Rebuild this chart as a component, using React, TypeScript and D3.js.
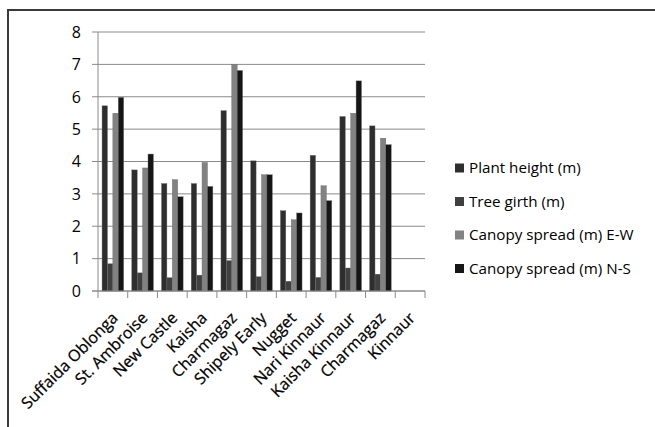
import React from "react";
import * as d3 from "d3";

const categories = [
  "Suffaida Oblonga",
  "St. Ambroise",
  "New Castle",
  "Kaisha",
  "Charmagaz",
  "Shipely Early",
  "Nugget",
  "Nari Kinnaur",
  "Kaisha Kinnaur",
  "Charmagaz",
  "Kinnaur",
];

const seriesNames = [
  "Plant height (m)",
  "Tree girth (m)",
  "Canopy spread (m) E-W",
  "Canopy spread (m) N-S",
];

const plantHeight = [5.72, 3.74, 3.32, 3.32, 5.57, 4.02, 2.48, 4.19, 5.39, 5.1, null];
const treeGirth = [0.84, 0.56, 0.41, 0.49, 0.94, 0.44, 0.3, 0.42, 0.71, 0.52, null];
const canopyEW = [5.49, 3.8, 3.44, 3.97, 7.0, 3.59, 2.2, 3.25, 5.49, 4.72, null];
const canopyNS = [5.98, 4.23, 2.91, 3.23, 6.81, 3.59, 2.41, 2.79, 6.49, 4.52, null];

const yTicks = [0, 1, 2, 3, 4, 5, 6, 7, 8];

const seriesColors = ["#2e2e2e", "#404040", "#828282", "#161616"];

const W = 655;
const H = 427;
const plot = { left: 98, right: 425, top: 32, bottom: 291 };
const FONT = "'Open Sans', 'Liberation Sans', sans-serif";

export default function App() {
  const seriesValues = [plantHeight, treeGirth, canopyEW, canopyNS];

  const x = d3
    .scaleBand<string>()
    .domain(categories.map((_, i) => String(i)))
    .range([plot.left, plot.right])
    .paddingInner(0)
    .paddingOuter(0);

  const y = d3.scaleLinear().domain([0, 8]).range([plot.bottom, plot.top]);

  const cw = x.bandwidth();
  // four bars per category, gap of 150% of a bar width
  const barW = cw / (4 + 1.5);
  const groupOffset = (barW * 1.5) / 2;

  const tickXs = d3.range(categories.length + 1).map((i) => plot.left + i * cw);

  return (
    <div style={{ position: "absolute", left: 0, top: 0 }}>
      <svg width={W} height={H} style={{ display: "block" }}>
        <rect x={0} y={0} width={W} height={H} fill="#fff" />
        {/* chart frame */}
        <rect
          x={8}
          y={10}
          width={W + 20}
          height={H + 20}
          fill="none"
          stroke="#3a3a3a"
          strokeWidth={2}
        />

        {/* horizontal gridlines */}
        {yTicks.map((t) => (
          <line
            key={"g" + t}
            x1={plot.left - 6}
            x2={plot.right}
            y1={y(t)}
            y2={y(t)}
            stroke="#8a8a8a"
            strokeWidth={1}
          />
        ))}

        {/* y axis */}
        <line
          x1={plot.left}
          x2={plot.left}
          y1={plot.top}
          y2={plot.bottom}
          stroke="#8a8a8a"
          strokeWidth={1}
        />
        {yTicks.map((t) => (
          <text
            key={"yl" + t}
            x={81}
            y={y(t)}
            dy="0.36em"
            textAnchor="end"
            fontFamily={FONT}
            fontSize={16}
            fill="#000"
          >
            {t}
          </text>
        ))}

        {/* bars */}
        {seriesValues.map((vals, s) =>
          vals.map((v, i) =>
            v == null ? null : (
              <rect
                key={`b${s}-${i}`}
                x={(x(String(i)) as number) + groupOffset + s * barW}
                y={y(v)}
                width={barW}
                height={y(0) - y(v)}
                fill={seriesColors[s]}
                stroke="#6a6a6a"
                strokeWidth={0.4}
              />
            )
          )
        )}

        {/* x axis */}
        <line
          x1={plot.left - 6}
          x2={plot.right}
          y1={plot.bottom}
          y2={plot.bottom}
          stroke="#8a8a8a"
          strokeWidth={1}
        />
        {tickXs.map((tx, i) => (
          <line
            key={"xt" + i}
            x1={tx}
            x2={tx}
            y1={plot.bottom}
            y2={plot.bottom + 7}
            stroke="#8a8a8a"
            strokeWidth={1}
          />
        ))}
        {categories.map((c, i) => {
          const cx = (x(String(i)) as number) + cw / 2 + 6;
          const cy = plot.bottom + 28;
          return (
            <text
              key={"xl" + i}
              x={cx}
              y={cy}
              textAnchor="end"
              transform={`rotate(-45 ${cx} ${cy})`}
              fontFamily={FONT}
              fontSize={16}
              fill="#000"
              stroke="#000"
              strokeWidth={0.25}
            >
              {c}
            </text>
          );
        })}

        {/* legend */}
        {seriesNames.map((name, s) => {
          const ly = 168 + s * 33.5;
          return (
            <g key={"lg" + s}>
              <rect x={455} y={ly - 4.5} width={9} height={9} fill={seriesColors[s]} />
              <text
                x={469}
                y={ly}
                dy="0.36em"
                fontFamily={FONT}
                fontSize={15.2}
                fill="#000"
              >
                {name}
              </text>
            </g>
          );
        })}
      </svg>
    </div>
  );
}
